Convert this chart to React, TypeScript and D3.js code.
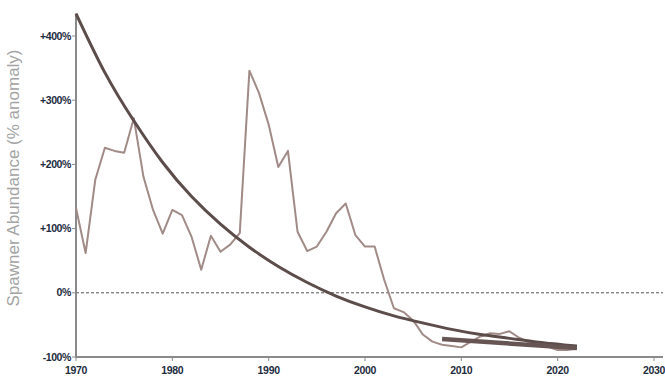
import * as d3 from 'd3'

// Spawner abundance, % anomaly
const years = [
  1970, 1971, 1972, 1973, 1974, 1975, 1976, 1977, 1978, 1979,
  1980, 1981, 1982, 1983, 1984, 1985, 1986, 1987, 1988, 1989,
  1990, 1991, 1992, 1993, 1994, 1995, 1996, 1997, 1998, 1999,
  2000, 2001, 2002, 2003, 2004, 2005, 2006, 2007, 2008, 2009,
  2010, 2011, 2012, 2013, 2014, 2015, 2016, 2017, 2018, 2019,
  2020, 2021, 2022
]
const anomaly = [
  132, 62, 176, 226, 221, 218, 272, 181, 129, 92,
  129, 121, 87, 36, 89, 64, 75, 93, 346, 311,
  262, 196, 221, 95, 65, 72, 95, 124, 139, 90,
  72, 72, 20, -24, -30, -43, -65, -76, -81, -83,
  -85, -76, -68, -63, -64, -60, -70, -77, -81, -84,
  -89, -89, -87
]

// long-term trend curve
const trendYears = [1970, 1973, 1976, 1979, 1982, 1985, 1988, 1991, 1994, 1997, 2000, 2003, 2006, 2009, 2012, 2015, 2018, 2022]
const trendValues = [435, 343, 268, 203, 150, 107, 71, 41, 16, -5, -22, -36, -47, -57, -65, -71, -77, -83]

// recent trend segment
const recentYears = [2008, 2022]
const recentValues = [-72, -86]

const xTicks = [1970, 1980, 1990, 2000, 2010, 2020, 2030]
const yTicks = [-100, 0, 100, 200, 300, 400]
const yTickLabels = ['-100%', '0%', '+100%', '+200%', '+300%', '+400%']

const W = 665
const H = 378

export default function App() {
  const x = d3.scaleLinear().domain([1970, 2030]).range([76, 654])
  const y = d3.scaleLinear().domain([-100, 400]).range([357, 36])

  const dataLine = d3.line<number>()
    .x((_, i) => x(years[i]))
    .y(d => y(d))
  const trendLine = d3.line<number>()
    .x((_, i) => x(trendYears[i]))
    .y(d => y(d))
    .curve(d3.curveNatural)
  const recentLine = d3.line<number>()
    .x((_, i) => x(recentYears[i]))
    .y(d => y(d))

  const axisColor = '#8a8a8a'
  const labelColor = '#1d2c40'
  const font = '"Liberation Sans", Arial, sans-serif'

  return (
    <svg width={W} height={H} style={{ position: 'absolute', left: 0, top: 0, background: '#fff' }}>
      {/* zero reference */}
      <line x1={x(1970)} x2={663} y1={y(0)} y2={y(0)} stroke="#555" strokeWidth={1} strokeDasharray="3,2" />

      {/* axes */}
      <line x1={x(1970)} x2={x(1970)} y1={y(435)} y2={y(-100)} stroke={axisColor} strokeWidth={2} />
      <line x1={x(1970) - 1} x2={663} y1={y(-100)} y2={y(-100)} stroke={axisColor} strokeWidth={2} />
      {yTicks.map((t, i) => (
        <g key={t}>
          <line x1={x(1970) - 4} x2={x(1970)} y1={y(t)} y2={y(t)} stroke={axisColor} strokeWidth={1} />
          <text x={x(1970) - 5} y={y(t)} dy="0.35em" textAnchor="end"
            fontFamily={font} fontWeight="bold" fontSize={10.5} fill={labelColor} letterSpacing={-0.4}>
            {yTickLabels[i]}
          </text>
        </g>
      ))}
      {xTicks.map(t => (
        <g key={t}>
          <line x1={x(t)} x2={x(t)} y1={y(-100)} y2={y(-100) + 4} stroke={axisColor} strokeWidth={1} />
          <text x={x(t)} y={y(-100) + 17} textAnchor="middle"
            fontFamily={font} fontWeight="bold" fontSize={10.5} fill={labelColor} letterSpacing={-0.3}>
            {t}
          </text>
        </g>
      ))}

      <text transform="translate(19, 178) rotate(-90)" textAnchor="middle"
        fontFamily={font} fontSize={17} fill="#a3a3a3">
        Spawner Abundance (% anomaly)
      </text>

      {/* series */}
      <path d={dataLine(anomaly) ?? ''} fill="none" stroke="#a08b87" strokeWidth={2} strokeLinejoin="round" />
      <path d={trendLine(trendValues) ?? ''} fill="none" stroke="#5c4c4a" strokeWidth={3} />
      <path d={recentLine(recentValues) ?? ''} fill="none" stroke="#665553" strokeWidth={4.5} />
    </svg>
  )
}
